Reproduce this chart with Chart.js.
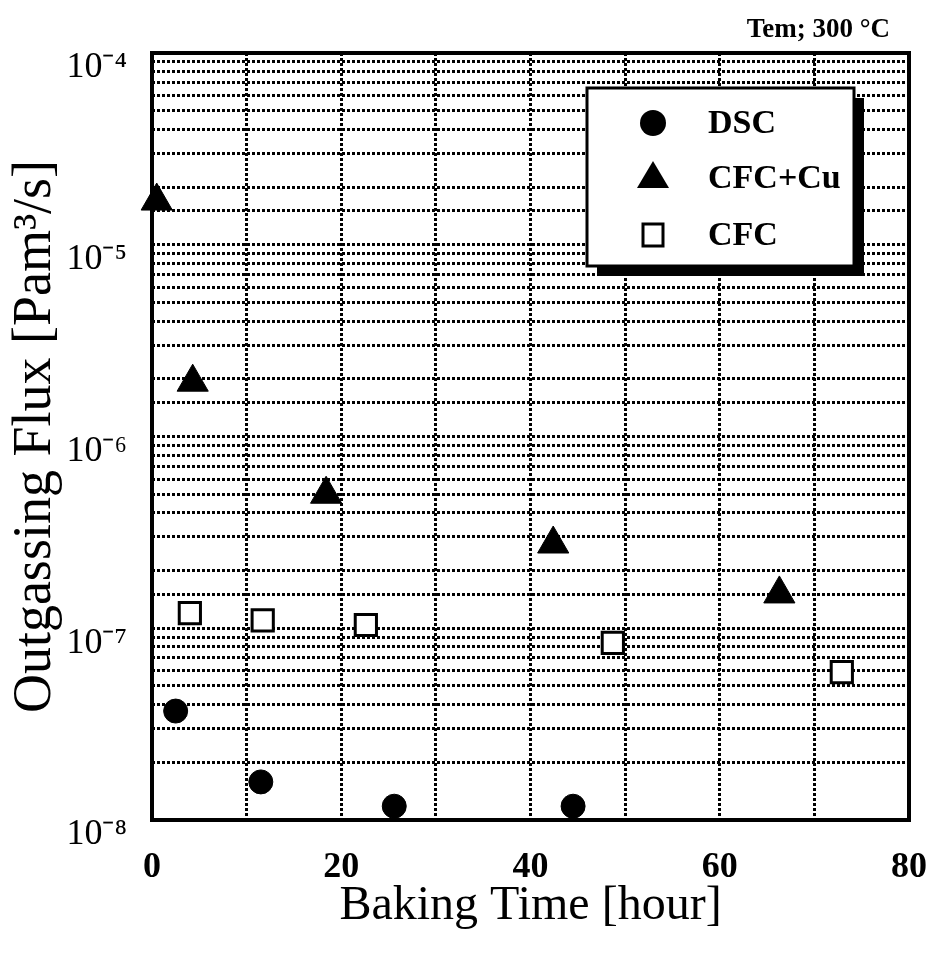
<!DOCTYPE html>
<html>
<head>
<meta charset="utf-8">
<script src="https://cdn.jsdelivr.net/npm/chart.js@4.4.1/dist/chart.umd.min.js"></script>
<style>
  html, body { margin: 0; padding: 0; background: #fff; }
  #wrap { width: 934px; height: 953px; }
</style>
</head>
<body>
<div id="wrap"><canvas id="myChart" width="934" height="953"></canvas></div>
<script>
// values (x = hours, y = Pa m3/s)
const dscTime = [2.5, 11.5, 25.6, 44.5];
const dscFlux = [3.7e-8, 1.58e-8, 1.18e-8, 1.18e-8];

const cfcCuTime = [0.5, 4.3, 18.4, 42.4, 66.3];
const cfcCuFlux = [1.69e-5, 1.92e-6, 5.0e-7, 2.75e-7, 1.51e-7];

const cfcTime = [4.0, 11.7, 22.6, 48.7, 72.9];
const cfcFlux = [1.20e-7, 1.10e-7, 1.04e-7, 8.4e-8, 5.9e-8];

const seriesNames = ['DSC', 'CFC+Cu', 'CFC'];
const xTickLabels = ['0', '20', '40', '60', '80'];
const yTickLabels = ['10⁻⁸', '10⁻⁷', '10⁻⁶', '10⁻⁵', '10⁻⁴'];

const serif = "'Liberation Serif', 'Times New Roman', serif";

function pts(xs, ys) {
  return xs.map((x, i) => ({x: x, y: ys[i]}));
}

const data = {
  datasets: [{
    label: seriesNames[0],
    data: pts(dscTime, dscFlux),
    pointStyle: 'circle',
    pointRadius: 12,
    backgroundColor: '#000',
    borderColor: '#000',
    borderWidth: 1
  }, {
    label: seriesNames[1],
    data: pts(cfcCuTime, cfcCuFlux),
    pointStyle: 'triangle',
    pointRadius: 18,
    backgroundColor: '#000',
    borderColor: '#000',
    borderWidth: 1
  }, {
    label: seriesNames[2],
    data: pts(cfcTime, cfcFlux),
    pointStyle: 'rect',
    pointRadius: 15,
    backgroundColor: '#fff',
    borderColor: '#000',
    borderWidth: 3
  }]
};

// heavy frame round the plot area
const framePlugin = {
  id: 'frame',
  beforeDatasetsDraw(chart) {
    const a = chart.chartArea, ctx = chart.ctx;
    ctx.save();
    ctx.lineWidth = 4;
    ctx.strokeStyle = '#000';
    ctx.strokeRect(a.left, a.top, a.right - a.left, a.bottom - a.top);
    ctx.restore();
  }
};

// boxed legend with drop shadow, plus the temperature note
const boxLegend = {
  id: 'boxLegend',
  afterDraw(chart) {
    const ctx = chart.ctx;
    const bx = 587, by = 88, bw = 267, bh = 178;
    ctx.save();
    ctx.fillStyle = '#000';
    ctx.fillRect(bx + 10, by + 10, bw, bh);
    ctx.fillStyle = '#fff';
    ctx.fillRect(bx, by, bw, bh);
    ctx.lineWidth = 3;
    ctx.strokeStyle = '#000';
    ctx.strokeRect(bx, by, bw, bh);

    const rows = [123, 178, 235];
    const mx = 653;
    chart.data.datasets.forEach((ds, i) => {
      const y = rows[i];
      ctx.beginPath();
      if (ds.pointStyle === 'circle') {
        ctx.arc(mx, y, 13, 0, Math.PI * 2);
        ctx.fillStyle = '#000';
        ctx.fill();
      } else if (ds.pointStyle === 'triangle') {
        ctx.moveTo(mx, y - 17);
        ctx.lineTo(mx + 16, y + 10);
        ctx.lineTo(mx - 16, y + 10);
        ctx.closePath();
        ctx.fillStyle = '#000';
        ctx.fill();
      } else {
        ctx.rect(mx - 10, y - 11, 20, 22);
        ctx.fillStyle = '#fff';
        ctx.fill();
        ctx.lineWidth = 3;
        ctx.stroke();
      }
      ctx.fillStyle = '#000';
      ctx.font = 'bold 34px ' + serif;
      ctx.textAlign = 'left';
      ctx.textBaseline = 'middle';
      ctx.fillText(ds.label, 708, y + 1);
    });

    ctx.font = 'bold 27px ' + serif;
    ctx.textAlign = 'right';
    ctx.textBaseline = 'alphabetic';
    ctx.fillText('Tem; 300 °C', 890, 37);
    ctx.restore();
  }
};

const config = {
  type: 'scatter',
  data: data,
  options: {
    responsive: false,
    animation: false,
    clip: false,
    layout: {
      padding: {top: 53, right: 0, left: 0, bottom: 0}
    },
    plugins: {
      legend: {display: false},
      tooltip: {enabled: false}
    },
    scales: {
      x: {
        type: 'linear',
        min: 0,
        max: 80,
        afterFit: (s) => {
          s.height = 133;
          s.paddingRight = 25;
          s.paddingLeft = 0;
        },
        ticks: {
          stepSize: 10,
          autoSkip: false,
          maxRotation: 0,
          padding: 26,
          color: '#000',
          font: {family: serif, size: 36, weight: 'bold'},
          callback: (v) => xTickLabels.indexOf(String(v)) >= 0 ? String(v) : ''
        },
        grid: {
          color: '#000',
          lineWidth: 3,
          drawTicks: false
        },
        border: {display: false, dash: [3, 2]},
        title: {
          display: true,
          text: 'Baking Time [hour]',
          color: '#000',
          font: {family: serif, size: 48},
          padding: {top: 0, bottom: 18}
        }
      },
      y: {
        type: 'logarithmic',
        min: 1e-8,
        max: 1e-4,
        afterFit: (s) => { s.width = 152; },
        ticks: {
          autoSkip: false,
          padding: 25,
          labelOffset: 15,
          color: '#000',
          font: {family: serif, size: 36},
          callback: (v) => {
            const e = Math.log10(v);
            if (Math.abs(e - Math.round(e)) > 1e-6) return '';
            return yTickLabels[Math.round(e) + 8];
          }
        },
        grid: {
          color: '#000',
          lineWidth: 3,
          drawTicks: false
        },
        border: {display: false, dash: [3, 2]},
        title: {
          display: true,
          text: 'Outgassing Flux [Pam³/s]',
          color: '#000',
          font: {family: serif, size: 54},
          padding: {top: 3, bottom: 0}
        }
      }
    }
  },
  plugins: [framePlugin, boxLegend]
};

const myChart = new Chart(
  document.getElementById('myChart'),
  config
);
</script>
</body>
</html>
